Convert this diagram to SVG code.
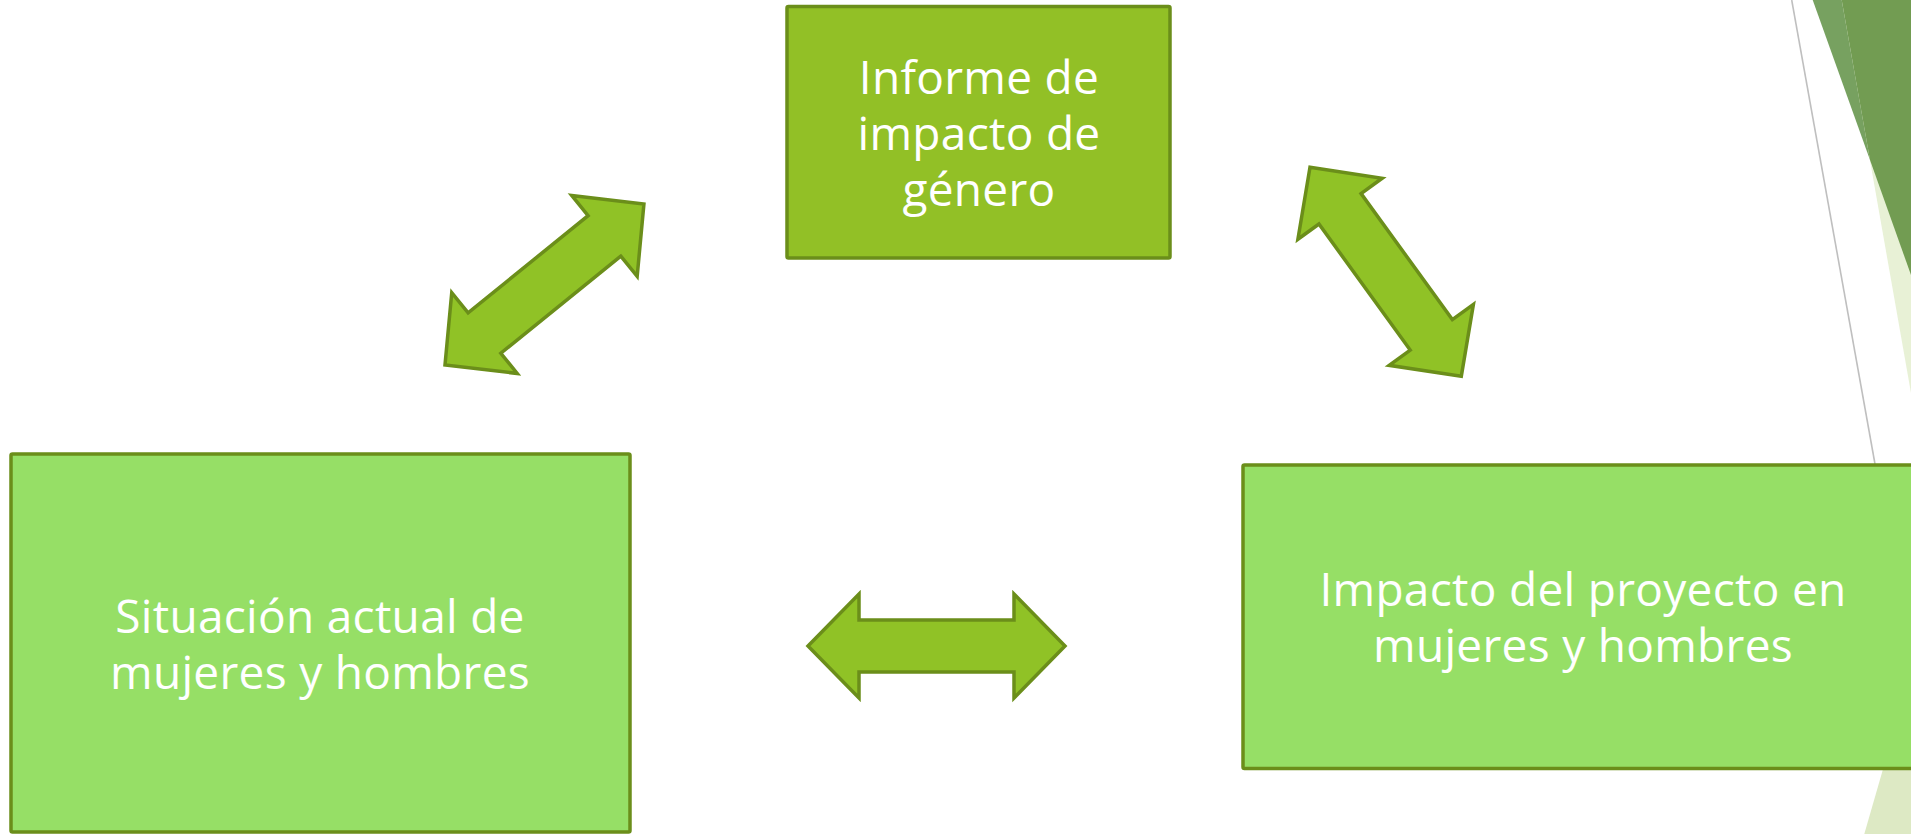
<svg xmlns="http://www.w3.org/2000/svg" width="1911" height="834" viewBox="0 0 1911 834">
  <style>
    .box-dark { fill: #92c026; stroke: #6b8e1a; stroke-width: 3.5; }
    .box-light { fill: #96df66; stroke: #6b8e1a; stroke-width: 3.5; }
    .arrow { fill: #90c226; stroke: #6b8e1a; stroke-width: 3.5; stroke-linejoin: miter; }
    .label { fill: #ffffff; font-family: "Open Sans", "Noto Sans", "DejaVu Sans", sans-serif; font-size: 46px; letter-spacing: 0.3px; text-anchor: middle; }
  </style>
  <defs>
    <polygon id="dbl" points="0,0 51,-52 51,-26 206,-26 206,-52 257,0 206,52 206,26 51,26 51,52"/>
  </defs>
  <rect x="0" y="0" width="1911" height="834" fill="#ffffff"/>

  <g id="decoration">
    <polygon points="1841.7,0 1911,0 1911,393" fill="#e8f1d6"/>
    <polygon points="1911,672 1911,834 1864.3,834" fill="#dde9c4"/>
    <polygon points="1812.7,0 1841.7,0 1870,160" fill="#77a160"/>
    <polygon points="1841.7,0 1911,0 1911,275 1870,160" fill="#729c52"/>
    <line x1="1791.7" y1="0" x2="1875" y2="464" stroke="#bfbfbf" stroke-width="1.6"/>
  </g>

  <g id="node-informe">
    <rect class="box-dark" x="787" y="6.5" width="383" height="251.5" rx="1.5"/>
    <text class="label" x="979" y="94">Informe de</text>
    <text class="label" x="979" y="150">impacto de</text>
    <text class="label" x="979" y="206">género</text>
  </g>

  <g id="node-situacion">
    <rect class="box-light" x="11" y="454" width="619" height="378" rx="1.5"/>
    <text class="label" x="320" y="633">Situación actual de</text>
    <text class="label" x="320" y="689">mujeres y hombres</text>
  </g>

  <g id="node-impacto">
    <rect class="box-light" x="1243" y="465" width="700" height="303.5" rx="1.5"/>
    <text class="label" x="1583" y="606">Impacto del proyecto en</text>
    <text class="label" x="1583" y="662">mujeres y hombres</text>
  </g>

  <g id="connectors">
    <use href="#dbl" class="arrow" transform="translate(445,365) rotate(-39) scale(0.996,1)"/>
    <use href="#dbl" class="arrow" transform="translate(1310,167.3) rotate(54.1) scale(1.004,1)"/>
    <use href="#dbl" class="arrow" transform="translate(808,646)"/>
  </g>
</svg>
